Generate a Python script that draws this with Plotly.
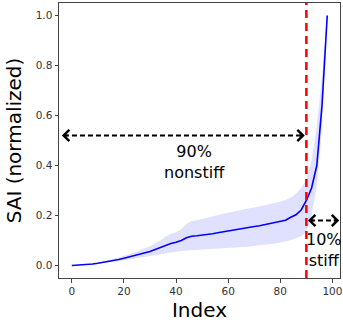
import plotly.graph_objects as go

index = list(range(0, 100, 2))
sai_mean = [0, 0.001, 0.002, 0.004, 0.006, 0.009, 0.012, 0.016, 0.020, 0.024,
            0.029, 0.034, 0.039, 0.044, 0.050, 0.056, 0.064, 0.073, 0.081, 0.088,
            0.093, 0.100, 0.111, 0.117, 0.119, 0.121, 0.124, 0.127, 0.131, 0.135,
            0.139, 0.142, 0.146, 0.149, 0.152, 0.156, 0.159, 0.163, 0.166, 0.170,
            0.174, 0.181, 0.193, 0.203, 0.222, 0.26, 0.31, 0.40, 0.64, 1.0]
sai_upper = [0, 0.001, 0.003, 0.005, 0.008, 0.011, 0.015, 0.020, 0.026, 0.032,
             0.038, 0.045, 0.052, 0.060, 0.068, 0.077, 0.089, 0.100, 0.115, 0.126,
             0.133, 0.145, 0.166, 0.178, 0.181, 0.185, 0.190, 0.196, 0.202, 0.207,
             0.212, 0.217, 0.222, 0.226, 0.229, 0.232, 0.236, 0.240, 0.244, 0.249,
             0.255, 0.262, 0.272, 0.287, 0.310, 0.345, 0.42, 0.56, 0.76, 1.0]
sai_lower = [0, 0.0005, 0.001, 0.003, 0.005, 0.007, 0.009, 0.012, 0.015, 0.018,
             0.021, 0.024, 0.027, 0.030, 0.033, 0.036, 0.040, 0.045, 0.049, 0.053,
             0.056, 0.058, 0.060, 0.061, 0.062, 0.063, 0.064, 0.065, 0.066, 0.068,
             0.070, 0.071, 0.073, 0.074, 0.076, 0.078, 0.080, 0.082, 0.085, 0.088,
             0.092, 0.096, 0.101, 0.109, 0.118, 0.135, 0.20, 0.32, 0.55, 1.0]

split_x = 90
left_arrow = (-3.8, 89.4, 0.52)
right_arrow = (90.6, 102.6, 0.18)
label_90 = (47.2, 0.415, "90%<br>nonstiff")
label_10 = (96.8, 0.063, "10%<br>stiff")

fig = go.Figure()
fig.add_trace(go.Scatter(x=index, y=sai_upper, mode="lines", line=dict(width=0),
                         hoverinfo="skip", showlegend=False))
fig.add_trace(go.Scatter(x=index, y=sai_lower, mode="lines", line=dict(width=0),
                         fill="tonexty", fillcolor="rgba(0,0,255,0.12)",
                         hoverinfo="skip", showlegend=False))
fig.add_trace(go.Scatter(x=index, y=sai_mean, mode="lines",
                         line=dict(color="#0000ff", width=1.6), showlegend=False))

fig.add_shape(type="line", x0=split_x, x1=split_x, y0=0, y1=1, xref="x", yref="paper",
              line=dict(color="red", width=2.5, dash="8px,5px"))

for (xa, xb, ya) in (left_arrow, right_arrow):
    fig.add_shape(type="line", x0=xa + 0.8, x1=xb - 0.8, y0=ya, y1=ya, xref="x", yref="y",
                  line=dict(color="black", width=2, dash="5px,3px"))
    fig.add_annotation(x=xa, y=ya, ax=7, ay=0, text="", showarrow=True, arrowhead=4,
                       arrowsize=1.1, arrowwidth=2, arrowcolor="black", xref="x", yref="y")
    fig.add_annotation(x=xb, y=ya, ax=-7, ay=0, text="", showarrow=True, arrowhead=4,
                       arrowsize=1.1, arrowwidth=2, arrowcolor="black", xref="x", yref="y")

for (lx, ly, lt) in (label_90, label_10):
    fig.add_annotation(x=lx, y=ly, text=lt, showarrow=False, xref="x", yref="y",
                       font=dict(family="DejaVu Sans", size=16, color="black"),
                       align="center")

fig.update_layout(
    width=343, height=322,
    margin=dict(l=59, r=1, t=3, b=44),
    paper_bgcolor="white", plot_bgcolor="white",
    font=dict(family="DejaVu Sans", color="#222"),
)
fig.update_xaxes(range=[-4.9, 102.9], tickvals=[0, 20, 40, 60, 80, 100],
                 ticklabeloverflow="allow",
                 showgrid=False, zeroline=False, showline=True, mirror=True,
                 linecolor="#444", linewidth=1, ticks="outside", ticklen=3.5,
                 tickcolor="#444", tickfont=dict(size=10.5, color="#333"),
                 title=dict(text="Index", font=dict(size=20, color="black"), standoff=6))
fig.update_yaxes(range=[-0.05, 1.05], tickvals=[0, 0.2, 0.4, 0.6, 0.8, 1.0],
                 tickformat=".1f",
                 showgrid=False, zeroline=False, showline=True, mirror=True,
                 linecolor="#444", linewidth=1, ticks="outside", ticklen=3.5,
                 tickcolor="#444", tickfont=dict(size=10.5, color="#333"),
                 title=dict(text="SAI (normalized)", font=dict(size=20, color="black"), standoff=8))

fig.write_html("out.html")
